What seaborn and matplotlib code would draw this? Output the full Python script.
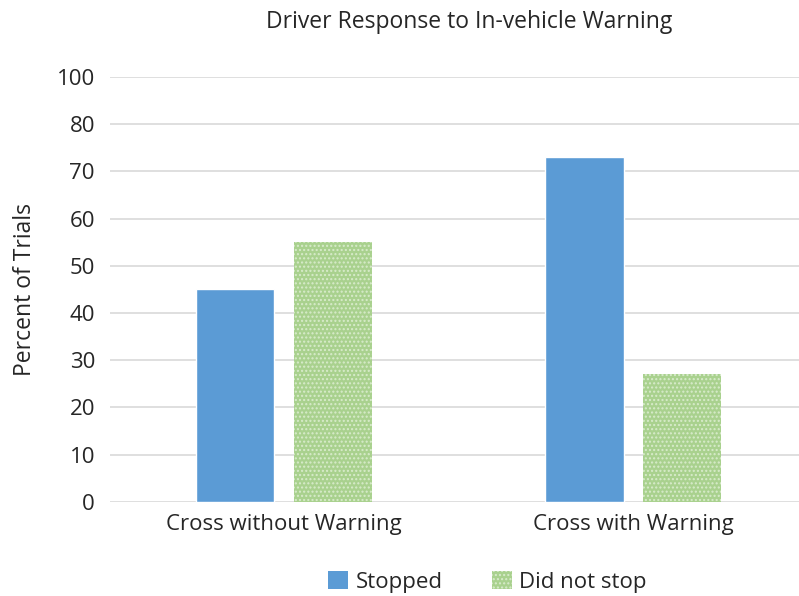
import numpy as np
import pandas as pd
import matplotlib
matplotlib.use('Agg')
import matplotlib.pyplot as plt
import seaborn as sns

# data
conditions = ['Cross without Warning', 'Cross with Warning']
stopped = [45, 73]
did_not_stop = [55, 27]
responses = ['Stopped', 'Did not stop']
# the original axis has its top tick labelled 100 although it sits at 90
ytick_values = [0, 10, 20, 30, 40, 50, 60, 70, 80, 90]
ytick_labels = ['0', '10', '20', '30', '40', '50', '60', '70', '80', '100']

df = pd.DataFrame({
    'Condition': conditions * 2,
    'Response': [responses[0]] * 2 + [responses[1]] * 2,
    'Percent': stopped + did_not_stop,
})

sns.set_style('white')
plt.rcParams['font.family'] = ['Open Sans', 'DejaVu Sans']

blue = '#5b9bd5'
green = '#a9d18e'
text_col = '#262626'

fig = plt.figure(figsize=(7.99, 5.96), dpi=100)
ax = fig.add_axes([0.138, 0.158, 0.862, 0.713])

sns.barplot(data=df, x='Condition', y='Percent', hue='Response',
            palette=[blue, green], width=0.56, gap=0.2,
            ax=ax, legend=False, saturation=1)

# dotted fill on the second series
for bar in ax.containers[1]:
    bar.set_hatch('....')
    bar.set_edgecolor('#d8ebcb')
    bar.set_linewidth(0)

ax.set_ylim(0, 90)
ax.set_xlim(-0.497, 1.474)
ax.set_yticks(ytick_values)
ax.set_yticklabels(ytick_labels)
ax.yaxis.grid(True, color='#d9d9d9', linewidth=1.2)
ax.set_axisbelow(True)
for s in ax.spines.values():
    s.set_visible(False)
ax.tick_params(axis='both', length=0, labelsize=16, colors=text_col)
ax.tick_params(axis='x', pad=9)
ax.tick_params(axis='y', pad=11)
ax.set_xlabel('')
ax.set_ylabel('Percent of Trials', fontsize=16.5, color=text_col, labelpad=14)

fig.text(0.587, 0.963, 'Driver Response to In-vehicle Warning', ha='center', va='center',
         fontsize=16.5, color=text_col)

handles = [plt.Rectangle((0, 0), 1, 1, facecolor=blue, linewidth=0),
           plt.Rectangle((0, 0), 1, 1, facecolor=green, hatch='....', edgecolor='#d8ebcb', linewidth=0)]
fig.legend(handles, responses, loc='center', bbox_to_anchor=(0.61, 0.024), ncol=2,
           frameon=False, fontsize=16, handlelength=0.9, handleheight=0.9,
           columnspacing=2.2, handletextpad=0.35)

fig.savefig('out.png', dpi=100)
